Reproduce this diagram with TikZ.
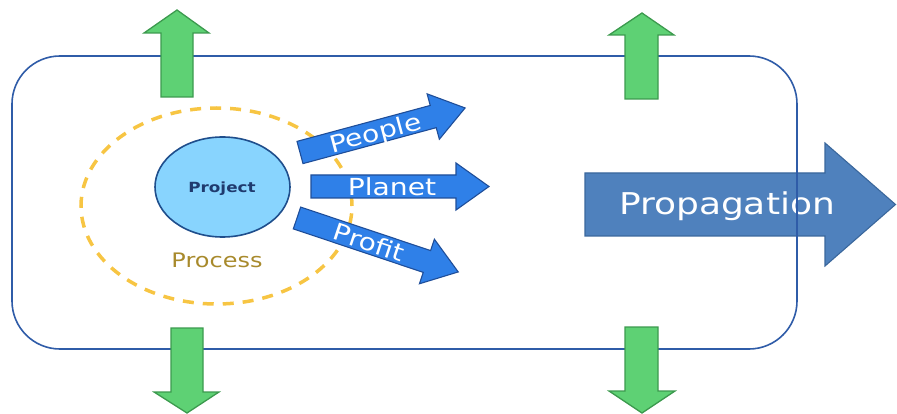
\documentclass[tikz,border=0pt]{standalone}
\usepackage{fontspec}
\setmainfont{DejaVu Sans}[FakeStretch=1.2]
\usetikzlibrary{shapes.geometric}
\definecolor{grfill}{HTML}{5ED174}
\definecolor{grline}{HTML}{3C9A4E}
\definecolor{blfill}{HTML}{2F80E8}
\definecolor{blline}{HTML}{1F4E99}
\definecolor{prfill}{HTML}{4F81BD}
\definecolor{prline}{HTML}{3A679C}
\definecolor{rectline}{HTML}{2F5CA8}
\definecolor{projfill}{HTML}{88D4FE}
\definecolor{projline}{HTML}{1F4E8C}
\definecolor{projtext}{HTML}{1F3A6E}
\definecolor{dashcol}{HTML}{F7C543}
\definecolor{proctext}{HTML}{A88A2C}
\tikzset{
  greenarrow/.style={fill=grfill, draw=grline, line width=1.3pt, line join=miter},
  bluearrow/.style={fill=blfill, draw=blline, line width=1.1pt, line join=miter},
  proparrow/.style={fill=prfill, draw=prline, line width=1.1pt, line join=miter},
  whitelbl/.style={text=white, inner sep=0pt, anchor=base},
}
\newcommand\myblockarrow[1]{%
  \draw[bluearrow] (0,-11.5) -- ({#1-33},-11.5) -- ({#1-33},-23.5) -- (#1,0)
    -- ({#1-33},23.5) -- ({#1-33},11.5) -- (0,11.5) -- cycle;}
\begin{document}
\begin{tikzpicture}[x=1pt,y=-1pt]
\useasboundingbox (0,0) rectangle (897,414);
% propagation arrow (behind the frame)
\draw[proparrow] (585,173) -- (825,173) -- (825,143) -- (895.5,204.5) -- (825,266) -- (825,236) -- (585,236) -- cycle;
\node[whitelbl, font=\fontsize{30}{30}\selectfont] (prop) at (727,215) {Propagation};
% frame
\draw[rectline, line width=1.6pt, rounded corners=48pt] (12,56) rectangle (797,349);
% green arrows
\draw[greenarrow] (161,97) -- (161,33) -- (144,33) -- (177,10) -- (209,33) -- (193,33) -- (193,97) -- cycle;
\draw[greenarrow] (625,99) -- (625,35) -- (609,35) -- (642,13) -- (674,35) -- (658,35) -- (658,99) -- cycle;
\draw[greenarrow] (171,328) -- (203,328) -- (203,392) -- (219,392) -- (187,413) -- (154,392) -- (171,392) -- cycle;
\draw[greenarrow] (625,327) -- (658,327) -- (658,391) -- (675,391) -- (642,413) -- (609,391) -- (625,391) -- cycle;
% process circle
\draw[dashcol, line width=3.5pt, dash pattern=on 11pt off 9pt] (216.5,206) ellipse [x radius=135.5pt, y radius=98pt];
\node[text=proctext, inner sep=0pt, anchor=base, font=\fontsize{20}{20}\selectfont] (process) at (217,267) {Process};
% blue arrows
\begin{scope}[shift={(300,152.5)}, rotate=15.1]
  \myblockarrow{171}
  \node[whitelbl, transform shape, font=\fontsize{23.5}{23.5}\selectfont] (people) at (78,9) {People};
\end{scope}
\begin{scope}[shift={(311,186.5)}]
  \myblockarrow{178}
  \node[whitelbl, font=\fontsize{23.5}{23.5}\selectfont] (planet) at (81,9.5) {Planet};
\end{scope}
\begin{scope}[shift={(297,218)}, rotate=-18.5]
  \myblockarrow{170}
  \node[whitelbl, transform shape, font=\fontsize{23.5}{23.5}\selectfont] (profit) at (76,9) {Profit};
\end{scope}
% project
\node[ellipse, fill=projfill, draw=projline, line width=1.6pt, minimum width=135pt, minimum height=100pt, inner sep=0pt] (proj) at (222.5,187) {};
\node[text=projtext, inner sep=0pt, anchor=base, font=\bfseries\fontsize{14}{14}\selectfont] (projlbl) at (222,193) {Project};
\end{tikzpicture}
\end{document}
